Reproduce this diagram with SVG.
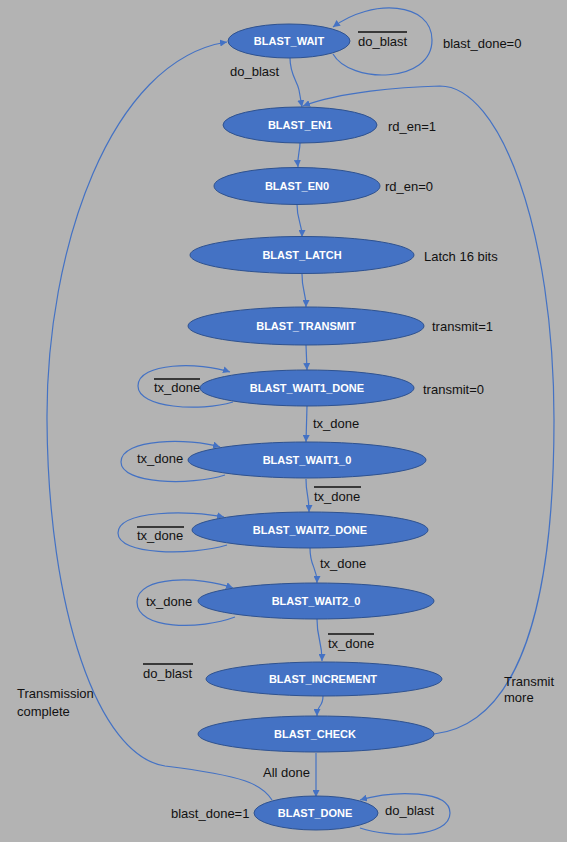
<svg xmlns="http://www.w3.org/2000/svg" width="567" height="842" viewBox="0 0 567 842">
<style>
.n{fill:#4472C4;stroke:#2F528F;stroke-width:1}
.nt{font-family:"Liberation Sans",Arial,sans-serif;font-size:11px;font-weight:bold;fill:#FFFFFF;text-anchor:middle}
.l{font-family:"Liberation Sans",Arial,sans-serif;font-size:13px;fill:#111111}
.c{fill:none;stroke:#4472C4;stroke-width:1.2}
.o{stroke:#111111;stroke-width:1.3}
</style>
<defs>
<marker id="ah" viewBox="0 0 10 10" refX="10" refY="5" markerWidth="7" markerHeight="7" markerUnits="userSpaceOnUse" orient="auto">
<path d="M0,0 L10,5 L0,10 z" fill="#4472C4"/>
</marker>
</defs>
<rect x="0" y="0" width="567" height="842" fill="#B3B3B3"/>
<g id="connectors">
<path class="c" marker-end="url(#ah)" d="M333,54 C350,84 432,84 432,40 C432,2 372,-2 333,27"/>
<path class="c" marker-end="url(#ah)" d="M290,58 C290,75 297,80 299,90 L302,107"/>
<path class="c" marker-end="url(#ah)" d="M434,734 C505,726 554,640 554,420 C554,230 500,86 440,86 C400,87 340,92 303,106"/>
<path class="c" marker-end="url(#ah)" d="M272,800 C262,784 245,776 165,766 C98,756 48,610 47,420 C46,250 110,60 227,42"/>
<path class="c" marker-end="url(#ah)" d="M300,143 C300,152 297,156 298,167"/>
<path class="c" marker-end="url(#ah)" d="M297,204 C297,222 302,222 302,237"/>
<path class="c" marker-end="url(#ah)" d="M302,274 C302,292 306,292 306,307"/>
<path class="c" marker-end="url(#ah)" d="M306,345 L307,370"/>
<path class="c" marker-end="url(#ah)" d="M307,406 L306,442"/>
<path class="c" marker-end="url(#ah)" d="M306,479 C306,495 309,495 309,512"/>
<path class="c" marker-end="url(#ah)" d="M310,548 C310,568 317,566 317,583"/>
<path class="c" marker-end="url(#ah)" d="M317,619 C317,640 322,640 322,661"/>
<path class="c" marker-end="url(#ah)" d="M323,696 C323,708 317,704 317,716"/>
<path class="c" marker-end="url(#ah)" d="M316,753 L316,797"/>
<path class="c" marker-end="url(#ah)" d="M233,402 C200,412 138,408 138,386 C138,362 200,362 230,372"/>
<path class="c" marker-end="url(#ah)" d="M225,475 C190,486 121,484 121,462 C121,438 190,438 220,447"/>
<path class="c" marker-end="url(#ah)" d="M227,545 C190,556 118,555 118,533 C118,510 190,510 224,517"/>
<path class="c" marker-end="url(#ah)" d="M235,617 C200,630 137,630 137,602 C137,575 200,576 233,588"/>
<path class="c" marker-end="url(#ah)" d="M360,828 C390,838 450,838 450,813 C450,790 395,790 360,800"/>
</g>
<g id="BLAST_WAIT"><ellipse class="n" cx="289" cy="41" rx="61" ry="17"/><text class="nt" x="289" y="45">BLAST_WAIT</text></g>
<g id="BLAST_EN1"><ellipse class="n" cx="300" cy="125" rx="77" ry="18"/><text class="nt" x="300" y="129">BLAST_EN1</text></g>
<g id="BLAST_EN0"><ellipse class="n" cx="297" cy="186" rx="83" ry="18.5"/><text class="nt" x="297" y="190">BLAST_EN0</text></g>
<g id="BLAST_LATCH"><ellipse class="n" cx="302" cy="255" rx="112" ry="18.5"/><text class="nt" x="302" y="259">BLAST_LATCH</text></g>
<g id="BLAST_TRANSMIT"><ellipse class="n" cx="306" cy="326" rx="118" ry="19"/><text class="nt" x="306" y="330">BLAST_TRANSMIT</text></g>
<g id="BLAST_WAIT1_DONE"><ellipse class="n" cx="307" cy="388" rx="107" ry="18"/><text class="nt" x="307" y="392">BLAST_WAIT1_DONE</text></g>
<g id="BLAST_WAIT1_0"><ellipse class="n" cx="307" cy="460" rx="119" ry="18"/><text class="nt" x="307" y="464">BLAST_WAIT1_0</text></g>
<g id="BLAST_WAIT2_DONE"><ellipse class="n" cx="310" cy="530" rx="118" ry="18"/><text class="nt" x="310" y="534">BLAST_WAIT2_DONE</text></g>
<g id="BLAST_WAIT2_0"><ellipse class="n" cx="316" cy="601" rx="118" ry="18"/><text class="nt" x="316" y="605">BLAST_WAIT2_0</text></g>
<g id="BLAST_INCREMENT"><ellipse class="n" cx="324" cy="679" rx="118" ry="17"/><text class="nt" x="323" y="683">BLAST_INCREMENT</text></g>
<g id="BLAST_CHECK"><ellipse class="n" cx="316" cy="734" rx="118" ry="18"/><text class="nt" x="315" y="738">BLAST_CHECK</text></g>
<g id="BLAST_DONE"><ellipse class="n" cx="316" cy="813" rx="62" ry="17"/><text class="nt" x="315" y="817">BLAST_DONE</text></g>
<g id="labels">
<text class="l" x="230" y="75.5">do_blast</text>
<text class="l" x="358" y="45.5">do_blast</text><line class="o" x1="358" y1="32" x2="407" y2="32"/>
<text class="l" x="443" y="47.5">blast_done=0</text>
<text class="l" x="388" y="130.5">rd_en=1</text>
<text class="l" x="385" y="190.5">rd_en=0</text>
<text class="l" x="424" y="260.5">Latch 16 bits</text>
<text class="l" x="432" y="330.5">transmit=1</text>
<text class="l" x="423" y="393.5">transmit=0</text>
<text class="l" x="154" y="392">tx_done</text><line class="o" x1="154" y1="379" x2="200" y2="379"/>
<text class="l" x="313" y="427.5">tx_done</text>
<text class="l" x="137" y="462.5">tx_done</text>
<text class="l" x="314" y="500.5">tx_done</text><line class="o" x1="314" y1="487" x2="361" y2="487"/>
<text class="l" x="137" y="539.5">tx_done</text><line class="o" x1="137" y1="527" x2="184" y2="527"/>
<text class="l" x="320" y="567.5">tx_done</text>
<text class="l" x="146" y="605.5">tx_done</text>
<text class="l" x="328" y="647.5">tx_done</text><line class="o" x1="328" y1="634" x2="374" y2="634"/>
<text class="l" x="143" y="677.5">do_blast</text><line class="o" x1="143" y1="664" x2="193" y2="664"/>
<text class="l" x="17" y="697.5">Transmission</text>
<text class="l" x="17" y="715.5">complete</text>
<text class="l" x="504" y="685.5">Transmit</text>
<text class="l" x="504" y="701.5">more</text>
<text class="l" x="263" y="776.5">All done</text>
<text class="l" x="171" y="817.5">blast_done=1</text>
<text class="l" x="385" y="814.5">do_blast</text>
</g>
</svg>
